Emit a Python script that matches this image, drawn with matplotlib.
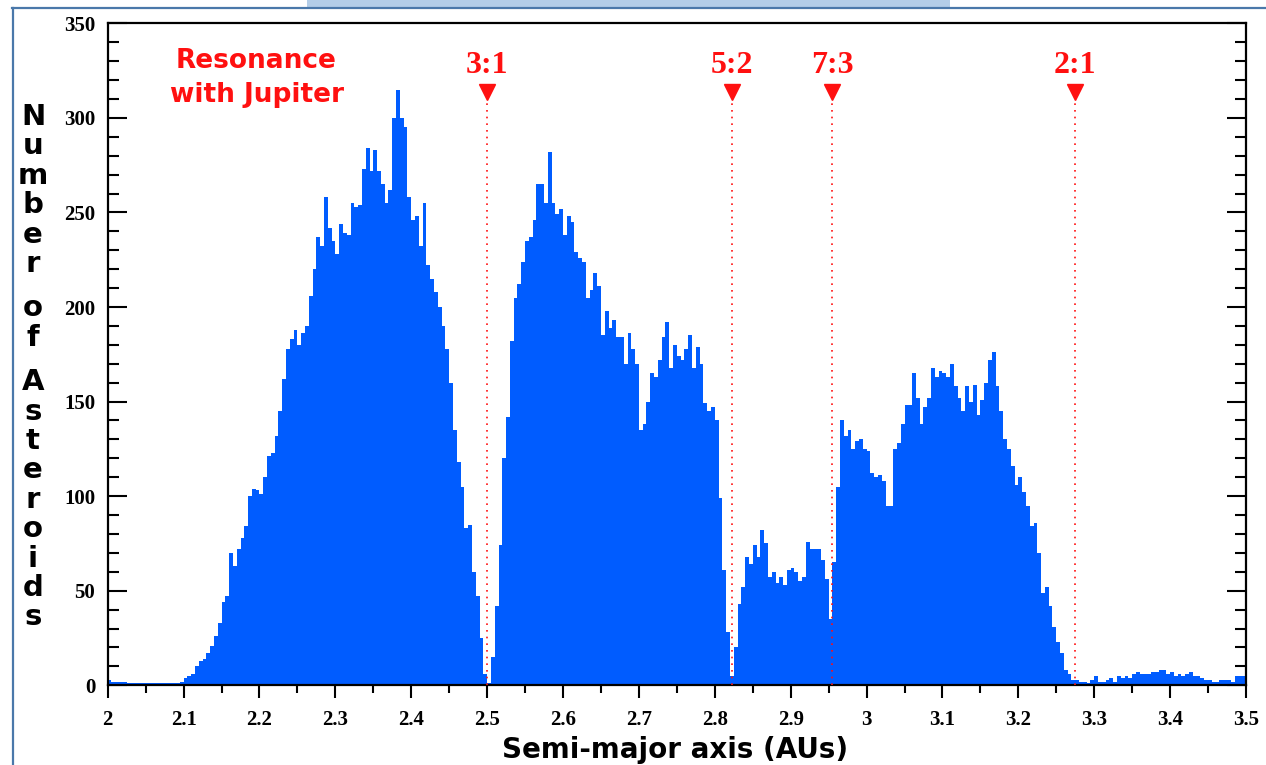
import numpy as np
import matplotlib
matplotlib.use("Agg")
import matplotlib.pyplot as plt
from matplotlib.patches import Rectangle
from matplotlib.lines import Line2D

# Histogram of asteroid semi-major axes, 0.005 AU bins from 2.0 to 3.5 AU
bin_width = 0.005
a_min, a_max = 2.0, 3.5

# counts per bin, 2.000 - 2.495 AU
counts_inner = [
    3, 2, 2, 2, 2, 1, 1, 1, 1, 1, 1, 1, 1, 1, 1, 1, 1, 1, 1, 2,
    4, 5, 6, 10, 13, 14, 17, 21, 26, 33, 44, 47, 70, 63, 72, 78, 84, 100, 104, 103,
    101, 110, 121, 123, 132, 145, 162, 178, 183, 188, 180, 186, 190, 206, 220, 237, 232, 258, 242, 235,
    228, 244, 239, 238, 255, 253, 254, 273, 284, 272, 283, 272, 265, 255, 262, 300, 315, 300, 295, 258,
    246, 248, 232, 255, 222, 215, 208, 200, 190, 178, 160, 135, 118, 105, 83, 85, 60, 47, 25, 6,
]
# counts per bin, 2.500 - 2.995 AU
counts_middle = [
    1, 15, 42, 74, 120, 142, 182, 205, 212, 224, 235, 237, 246, 265, 265, 255, 282, 255, 249, 252,
    238, 248, 245, 229, 226, 224, 205, 209, 218, 211, 185, 198, 189, 193, 184, 184, 170, 186, 178, 170,
    135, 138, 150, 165, 163, 172, 184, 192, 168, 180, 174, 172, 178, 185, 168, 179, 170, 149, 145, 147,
    140, 99, 61, 28, 5, 20, 43, 52, 68, 64, 74, 68, 82, 75, 57, 60, 54, 57, 53, 61,
    62, 60, 55, 57, 76, 72, 72, 72, 66, 56, 35, 65, 105, 140, 132, 135, 125, 129, 130, 125,
]
# counts per bin, 3.000 - 3.495 AU
counts_outer = [
    124, 112, 110, 111, 108, 95, 95, 125, 128, 138, 148, 148, 165, 152, 138, 147, 152, 168, 163, 166,
    165, 163, 170, 158, 152, 145, 158, 150, 159, 143, 151, 160, 172, 176, 158, 145, 130, 125, 116, 106,
    110, 102, 95, 84, 86, 70, 49, 52, 42, 31, 23, 17, 8, 6, 3, 3, 2, 2, 1, 3,
    5, 2, 2, 3, 4, 2, 5, 4, 5, 4, 6, 7, 6, 6, 6, 7, 7, 8, 8, 6,
    7, 5, 6, 5, 6, 7, 5, 5, 4, 3, 3, 2, 2, 3, 3, 3, 2, 5, 5, 5,
]

# Kirkwood gaps: mean-motion resonances with Jupiter
resonance_names = ["3:1", "5:2", "7:3", "2:1"]
resonance_a = [2.500, 2.823, 2.955, 3.275]

x_ticks = [2.0, 2.1, 2.2, 2.3, 2.4, 2.5, 2.6, 2.7, 2.8, 2.9, 3.0, 3.1, 3.2, 3.3, 3.4, 3.5]
y_ticks = [0, 50, 100, 150, 200, 250, 300, 350]

counts = np.array(counts_inner + counts_middle + counts_outer, dtype=float)
edges = np.round(a_min + bin_width * np.arange(len(counts) + 1), 4)

W, H = 1266, 765
fig = plt.figure(figsize=(W / 100, H / 100), dpi=100)
fig.patch.set_facecolor("white")

# page frame and header tab
fig.add_artist(Rectangle((307 / W, 1 - 7 / H), (950 - 307) / W, 7 / H,
                         transform=fig.transFigure, facecolor="#b3cde8",
                         edgecolor="none", zorder=0))
fig.add_artist(Line2D([12 / W, 1.0], [1 - 7.5 / H, 1 - 7.5 / H],
                      transform=fig.transFigure, color="#4a78aa", lw=1.6))
fig.add_artist(Line2D([12.5 / W, 12.5 / W], [0, 1 - 7.5 / H],
                      transform=fig.transFigure, color="#4a78aa", lw=1.6))

left, right = 107.7, 1246.0
top, bottom = 23.3, 685.3
ax = fig.add_axes([left / W, 1 - bottom / H, (right - left) / W, (bottom - top) / H])

blue = "#005cff"
red = "#ff1010"
ax.stairs(counts, edges, fill=True, color=blue, lw=0, zorder=2)

ax.set_xlim(a_min, a_max)
ax.set_ylim(0, 350)

# resonance markers
for name, a in zip(resonance_names, resonance_a):
    ax.vlines(a, 0, 309, colors=red, linestyles=(0, (1, 3)), lw=1.2, zorder=3)
    ax.plot([a], [313.5], marker="v", ms=11, color=red, mec=red, zorder=4,
            clip_on=False)
    ax.text(a, 323.5, name, ha="center", va="baseline", color=red,
            fontsize=23, fontweight="bold", family="Liberation Serif")

ax.text(2.195, 326.3, "Resonance", ha="center", va="baseline", color=red,
        fontsize=19, fontweight="bold", family="DejaVu Sans")
ax.text(2.197, 308.4, "with Jupiter", ha="center", va="baseline", color=red,
        fontsize=19, fontweight="bold", family="DejaVu Sans")

# axes styling
for s in ax.spines.values():
    s.set_linewidth(1.6)
    s.set_color("black")

ax.set_xticks(x_ticks)
ax.set_xticklabels([f"{v:g}" for v in x_ticks])
ax.set_xticks(np.round(np.arange(2.05, 3.5, 0.1), 3), minor=True)
ax.set_yticks(y_ticks)
ax.set_yticks(np.arange(0, 351, 10), minor=True)

ax.tick_params(axis="x", which="major", direction="out", length=9, width=1.5,
               pad=9, labelsize=15)
ax.tick_params(axis="x", which="minor", direction="out", length=6, width=1.5)
ax.tick_params(axis="y", which="major", direction="in", length=14, width=1.5,
               pad=9, labelsize=15, right=True)
ax.tick_params(axis="y", which="minor", direction="in", length=8, width=1.5,
               right=True)
for lab in ax.get_xticklabels() + ax.get_yticklabels():
    lab.set_family("Liberation Serif")
    lab.set_fontweight("bold")

# axis titles
fig.text(675 / W, 1 - 750 / H, "Semi-major axis (AUs)", ha="center", va="center",
         fontsize=20, fontweight="bold", family="DejaVu Sans")

ylabel = "Number of Asteroids"
y_px = 117.0
for ch in ylabel:
    if ch == " ":
        y_px += 15.0
        continue
    fig.text(33 / W, 1 - y_px / H, ch, ha="center", va="center",
             fontsize=21, fontweight="bold", family="DejaVu Sans")
    y_px += 29.4

fig.savefig("out.png", dpi=100)
